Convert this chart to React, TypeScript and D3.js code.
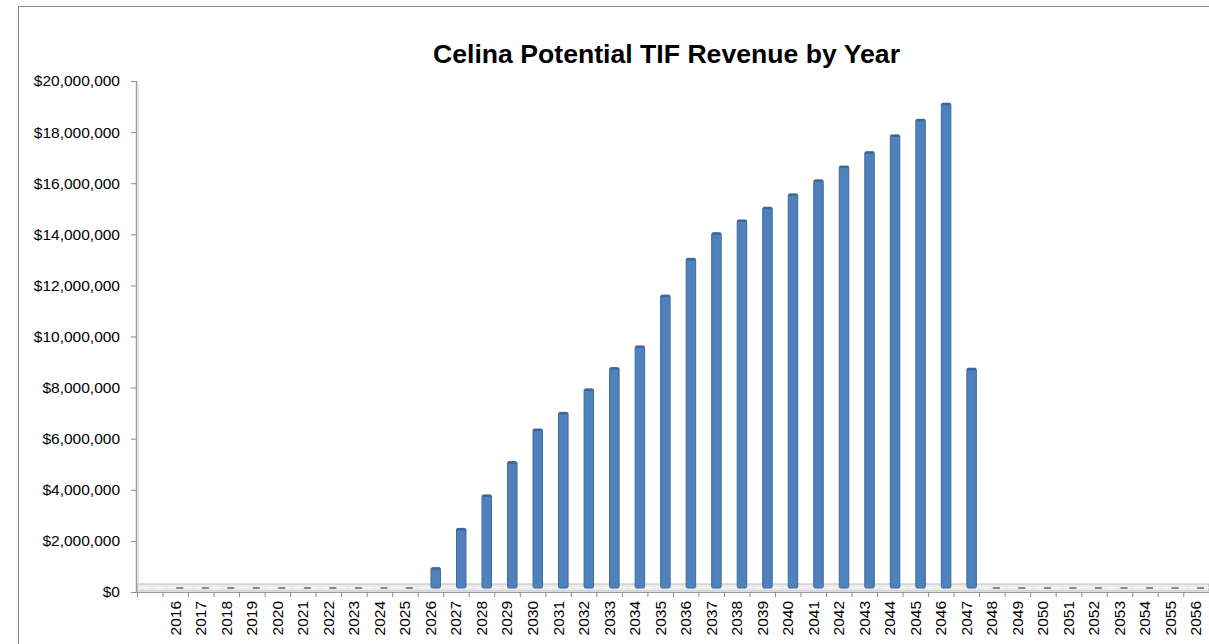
import { useRef, useEffect } from "react";
import * as d3 from "d3";

const title = "Celina Potential TIF Revenue by Year";

// first slot of the category axis is an unlabeled gap in the original chart
const categories = [
  "", "2016", "2017", "2018", "2019", "2020", "2021", "2022", "2023", "2024",
  "2025", "2026", "2027", "2028", "2029", "2030", "2031", "2032", "2033",
  "2034", "2035", "2036", "2037", "2038", "2039", "2040", "2041", "2042",
  "2043", "2044", "2045", "2046", "2047", "2048", "2049", "2050", "2051",
  "2052", "2053", "2054", "2055", "2056",
];

const revenue: (number | null)[] = [
  null,
  0, 0, 0, 0, 0, 0, 0, 0, 0, 0,
  950000, 2490000, 3800000, 5100000, 6380000, 7030000, 7950000, 8780000,
  9630000, 11620000, 13060000, 14060000, 14560000, 15060000, 15580000,
  16130000, 16670000, 17230000, 17890000, 18500000, 19130000, 8760000,
  0, 0, 0, 0, 0, 0, 0, 0, 0,
];

const yTicks = [
  0, 2000000, 4000000, 6000000, 8000000, 10000000, 12000000, 14000000,
  16000000, 18000000, 20000000,
];

const W = 1209;
const H = 644;
const FONT = "'Liberation Sans', Arial, sans-serif";

export default function App() {
  const ref = useRef<SVGSVGElement>(null);

  useEffect(() => {
    if (!ref.current) return;
    const svg = d3.select(ref.current);
    svg.selectAll("*").remove();

    const x = d3.scaleBand<string>().domain(categories).range([137, 1208.8]).padding(0);
    const y = d3.scaleLinear().domain([0, 20000000]).range([592, 81]);
    const bw = x.bandwidth();
    const fmt = (v: number) => "$" + d3.format(",")(v);

    svg.append("rect").attr("width", W).attr("height", H).attr("fill", "#fff");

    // chart area border (right and bottom fall outside the picture)
    svg.append("rect")
      .attr("x", 18.5).attr("y", 6.5)
      .attr("width", W + 20).attr("height", H + 20)
      .attr("fill", "none").attr("stroke", "#8c8c8c");

    // title
    svg.append("text")
      .attr("x", 433).attr("y", 63)
      .attr("textLength", 467).attr("lengthAdjust", "spacingAndGlyphs")
      .style("font-family", FONT).style("font-weight", "bold")
      .style("font-size", "25px").style("fill", "#000")
      .text(title);

    // 3D floor
    svg.append("rect")
      .attr("x", 137).attr("y", 584)
      .attr("width", 1208.8 - 137).attr("height", 7)
      .attr("fill", "#ececec").attr("stroke", "#bdbdbd");
    svg.append("line")
      .attr("x1", 140).attr("x2", 1209).attr("y1", 587.5).attr("y2", 587.5)
      .attr("stroke", "#fafafa").attr("stroke-dasharray", "10 4");

    // y axis
    svg.append("line")
      .attr("x1", 136.5).attr("x2", 136.5).attr("y1", y(20000000)).attr("y2", y(0))
      .attr("stroke", "#9a9a9a").attr("stroke-width", 1.5);
    svg.append("line")
      .attr("x1", 138.5).attr("x2", 138.5).attr("y1", y(20000000) + 3).attr("y2", y(0) - 6)
      .attr("stroke", "#e3e3e3");
    const yt = svg.append("g");
    yTicks.forEach((t) => {
      yt.append("line")
        .attr("x1", 131).attr("x2", 136).attr("y1", y(t) + 0.5).attr("y2", y(t) + 0.5)
        .attr("stroke", "#8c8c8c");
      yt.append("text")
        .attr("x", 120).attr("y", y(t)).attr("dy", "0.35em")
        .attr("text-anchor", "end")
        .style("font-family", FONT).style("font-size", "15.5px").style("fill", "#000")
        .text(fmt(t));
    });

    // x axis
    svg.append("line")
      .attr("x1", 136).attr("x2", 1209).attr("y1", 592.5).attr("y2", 592.5)
      .attr("stroke", "#9a9a9a");
    categories.forEach((c) => {
      const x0 = x(c) as number;
      svg.append("line")
        .attr("x1", x0 + 0.5).attr("x2", x0 + 0.5).attr("y1", 592).attr("y2", 597)
        .attr("stroke", "#8c8c8c");
      if (c) {
        svg.append("text")
          .attr("transform", `translate(${x0 + bw / 2},601) rotate(-90)`)
          .attr("dy", "0.35em").attr("text-anchor", "end")
          .style("font-family", FONT).style("font-size", "15.5px").style("fill", "#000")
          .text(c);
      }
    });

    // bars
    const bars = svg.append("g");
    categories.forEach((c, i) => {
      const v = revenue[i];
      if (v === null) return;
      const cx = (x(c) as number) + bw / 2;
      if (v === 0) {
        bars.append("rect")
          .attr("x", cx + 1).attr("y", 587).attr("width", 7).attr("height", 2)
          .attr("fill", "#7f8b98");
        return;
      }
      const top = y(v);
      bars.append("rect")
        .attr("x", cx + 0.5).attr("y", top)
        .attr("width", 9.5).attr("height", 588 - top)
        .attr("rx", 1.5)
        .attr("fill", "#4f81bd").attr("stroke", "#3f6a9d").attr("stroke-width", 1);
      bars.append("rect")
        .attr("x", cx + 1).attr("y", top)
        .attr("width", 8.5).attr("height", 2)
        .attr("fill", "#3d6595");
    });
  }, []);

  return (
    <svg
      ref={ref}
      width={W}
      height={H}
      style={{ position: "absolute", left: 0, top: 0, display: "block" }}
    />
  );
}
